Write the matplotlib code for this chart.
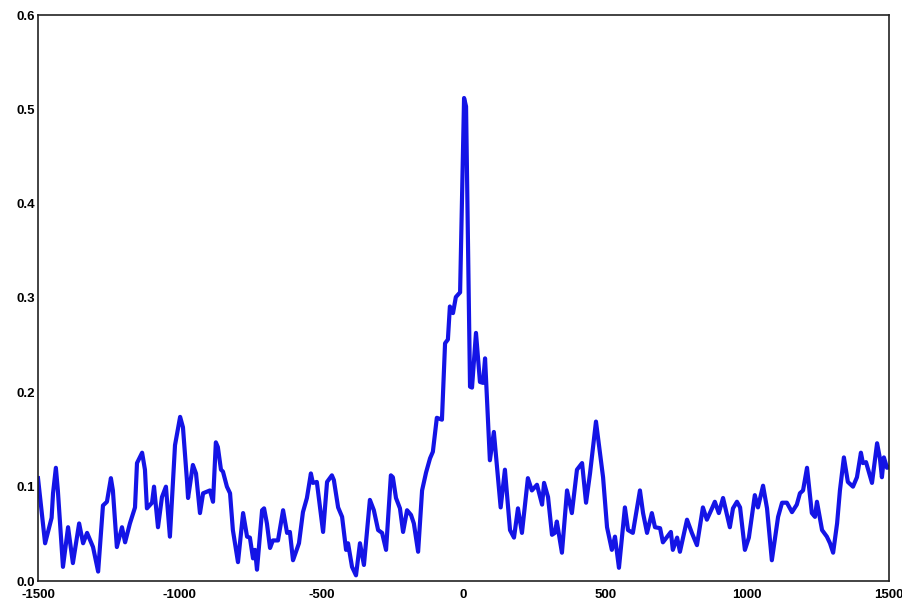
import matplotlib
matplotlib.use("Agg")
import matplotlib.pyplot as plt

lag = [-1500, -1475, -1452, -1447, -1437, -1430, -1412, -1394, -1377, -1355,
       -1341, -1327, -1306, -1288, -1271, -1257, -1243, -1236, -1222, -1204,
       -1193, -1176, -1158, -1151, -1133, -1123, -1116, -1098, -1091, -1077,
       -1063, -1049, -1035, -1017, -999, -989, -975, -971, -954, -943,
       -929, -918, -894, -883, -873, -866, -855, -848, -834, -823,
       -813, -795, -777, -763, -753, -742, -735, -728, -710, -703,
       -693, -682, -672, -654, -636, -622, -612, -601, -580, -566,
       -552, -538, -531, -517, -495, -481, -464, -457, -442, -428,
       -414, -407, -393, -379, -365, -351, -330, -316, -301, -287,
       -273, -256, -249, -238, -224, -213, -199, -185, -175, -160,
       -146, -132, -118, -108, -94, -76, -65, -55, -48, -37,
       -27, -12, 2, 9, 23, 30, 44, 58, 69, 76,
       93, 107, 131, 146, 164, 178, 192, 206, 227, 241,
       259, 277, 284, 298, 312, 322, 329, 347, 365, 382,
       400, 418, 432, 446, 467, 492, 506, 523, 534, 548,
       569, 580, 597, 622, 633, 647, 664, 675, 693, 703,
       731, 738, 753, 763, 788, 805, 823, 844, 858, 876,
       886, 900, 915, 939, 950, 964, 975, 992, 1006, 1027,
       1038, 1056, 1070, 1087, 1109, 1123, 1140, 1158, 1175, 1186,
       1197, 1211, 1228, 1239, 1246, 1264, 1281, 1292, 1303, 1317,
       1327, 1341, 1355, 1373, 1387, 1401, 1408, 1419, 1440, 1458,
       1468, 1475, 1482, 1493, 1500]

value = [0.109, 0.040, 0.067, 0.093, 0.120, 0.096, 0.015, 0.057, 0.019, 0.061,
         0.040, 0.051, 0.036, 0.010, 0.080, 0.084, 0.109, 0.096, 0.036, 0.057,
         0.041, 0.061, 0.078, 0.125, 0.136, 0.118, 0.077, 0.083, 0.100, 0.057,
         0.089, 0.100, 0.047, 0.144, 0.174, 0.163, 0.107, 0.088, 0.123, 0.114,
         0.072, 0.093, 0.096, 0.084, 0.147, 0.142, 0.118, 0.116, 0.100, 0.093,
         0.054, 0.020, 0.072, 0.047, 0.046, 0.024, 0.033, 0.012, 0.075, 0.077,
         0.061, 0.035, 0.043, 0.043, 0.075, 0.051, 0.052, 0.022, 0.040, 0.073,
         0.088, 0.114, 0.104, 0.105, 0.052, 0.105, 0.112, 0.107, 0.078, 0.068,
         0.033, 0.040, 0.015, 0.006, 0.040, 0.017, 0.086, 0.075, 0.054, 0.051,
         0.033, 0.112, 0.110, 0.088, 0.077, 0.052, 0.075, 0.070, 0.061, 0.031,
         0.096, 0.115, 0.130, 0.137, 0.173, 0.171, 0.252, 0.256, 0.291, 0.284,
         0.301, 0.306, 0.512, 0.503, 0.206, 0.205, 0.263, 0.211, 0.210, 0.236,
         0.128, 0.158, 0.078, 0.118, 0.054, 0.046, 0.077, 0.051, 0.109, 0.096,
         0.102, 0.081, 0.104, 0.089, 0.049, 0.051, 0.063, 0.030, 0.096, 0.072,
         0.118, 0.125, 0.083, 0.114, 0.169, 0.110, 0.057, 0.033, 0.047, 0.014,
         0.078, 0.054, 0.051, 0.096, 0.072, 0.051, 0.072, 0.057, 0.056, 0.041,
         0.052, 0.033, 0.046, 0.031, 0.065, 0.051, 0.038, 0.078, 0.065, 0.077,
         0.084, 0.072, 0.088, 0.057, 0.077, 0.084, 0.078, 0.033, 0.046, 0.091,
         0.078, 0.101, 0.077, 0.022, 0.068, 0.083, 0.083, 0.073, 0.081, 0.093,
         0.096, 0.120, 0.072, 0.068, 0.084, 0.054, 0.047, 0.040, 0.030, 0.061,
         0.096, 0.131, 0.105, 0.100, 0.110, 0.136, 0.125, 0.126, 0.104, 0.146,
         0.130, 0.110, 0.131, 0.120, 0.121]

xticks = [-1500, -1000, -500, 0, 500, 1000, 1500]
xticklabels = ["-1500", "-1000", "-500", "0", "500", "1000", "1500"]
yticks = [0.0, 0.1, 0.2, 0.3, 0.4, 0.5, 0.6]
yticklabels = ["0.0", "0.1", "0.2", "0.3", "0.4", "0.5", "0.6"]

fig = plt.figure(figsize=(9.02, 6.01), dpi=100)
ax = fig.add_axes([38/902, 20/601, 851/902, 566/601])
ax.plot(lag, value, color="#1414e6", linewidth=3.0, solid_joinstyle="round")
ax.set_xlim(-1500, 1500)
ax.set_ylim(0, 0.6)
ax.set_xticks(xticks)
ax.set_xticklabels(xticklabels)
ax.set_yticks(yticks)
ax.set_yticklabels(yticklabels)
ax.tick_params(axis="x", length=0, pad=5.5)
ax.tick_params(axis="y", length=0, pad=2)
for lbl in ax.get_xticklabels() + ax.get_yticklabels():
    lbl.set_fontfamily("Liberation Sans")
    lbl.set_fontweight("bold")
    lbl.set_fontsize(9.5)
for s in ax.spines.values():
    s.set_linewidth(1.2)
    s.set_color("#222222")
fig.savefig("out.png", dpi=100)
